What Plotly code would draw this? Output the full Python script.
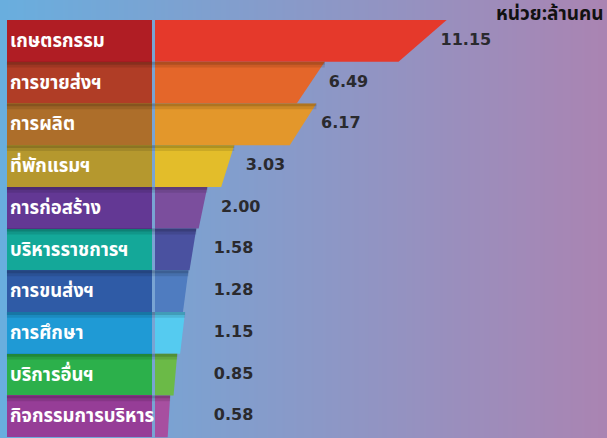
import numpy as np
import plotly.graph_objects as go

# ---- data ----
categories = ["เกษตรกรรม", "การขายส่งฯ", "การผลิต", "ที่พักแรมฯ", "การก่อสร้าง",
              "บริหารราชการฯ", "การขนส่งฯ", "การศึกษา", "บริการอื่นฯ", "กิจกรรมการบริหาร"]
values = [11.15, 6.49, 6.17, 3.03, 2.00, 1.58, 1.28, 1.15, 0.85, 0.58]
value_labels = ["11.15", "6.49", "6.17", "3.03", "2.00", "1.58", "1.28", "1.15", "0.85", "0.58"]
label_colors = ["#b01d24", "#b03d26", "#ad6e2a", "#b5982e", "#633894",
                "#14a899", "#2f5ba6", "#1f9ad5", "#2cb04b", "#963d97"]
bar_colors = ["#e5392b", "#e4662a", "#e3972b", "#e3bd2a", "#7b4e9d",
              "#4a51a0", "#4f7cc0", "#55cbf0", "#6bba47", "#a74fa0"]
unit_title = "หน่วย:ล้านคน"

W, H = 607, 438
PX = 24.0            # pixels per data unit
X0 = 155.0           # pixel position of zero
xmin, xmax = -X0 / PX, (W - X0) / PX
ymin, ymax = -0.98, 9.52

n = len(values)
fig = go.Figure()

# background gradient
xe = np.linspace(xmin, xmax, 121)
fig.add_trace(go.Heatmap(
    x=xe, y=[ymin, ymax], z=[np.linspace(0, 1, 120)],
    colorscale=[[0, "#69aede"], [1, "#aa84b2"]], showscale=False,
    zsmooth="best", hoverinfo="skip"))

# category label boxes
box_left = -6.17
box_right = -0.125
fig.add_trace(go.Bar(
    y=list(range(n)), x=[box_right - box_left] * n, base=box_left,
    orientation="h", width=1.0,
    marker=dict(color=label_colors, line=dict(width=0)),
    text=categories, textposition="inside", insidetextanchor="start",
    constraintext="none", cliponaxis=True,
    textfont=dict(color="white", size=18.5, weight="bold",
                  family="Noto Sans Thai, Noto Sans, sans-serif"),
    hoverinfo="skip"))

# slanted bars
for i, (v, c) in enumerate(zip(values, bar_colors)):
    fig.add_trace(go.Scatter(
        x=[0, v * 1.09, v * 0.91, 0, 0],
        y=[i - 0.5, i - 0.5, i + 0.5, i + 0.5, i - 0.5],
        mode="lines", fill="toself", fillcolor=c,
        line=dict(width=0, color=c), hoverinfo="skip", showlegend=False))

# value labels
fig.add_trace(go.Scatter(
    x=[max(v + 0.75, 2.45) for v in values], y=list(range(n)),
    mode="text", text=value_labels, textposition="middle right",
    textfont=dict(color="#2a2a2e", size=16, family="DejaVu Sans", weight="bold"),
    hoverinfo="skip", showlegend=False))

# soft shadows at row boundaries
shapes = []
for i in range(1, n):
    right = values[i] * 1.09
    for h, a in [(0.14, 0.10), (0.07, 0.14)]:
        shapes.append(dict(type="rect", xref="x", yref="y",
                           x0=box_left, x1=right, y0=i - 0.5, y1=i - 0.5 + h,
                           fillcolor=f"rgba(0,0,0,{a})", line=dict(width=0), layer="above"))

fig.update_layout(
    width=W, height=H, margin=dict(l=0, r=0, t=0, b=0),
    paper_bgcolor="#8fa0c8", plot_bgcolor="rgba(0,0,0,0)",
    showlegend=False, bargap=0,
    xaxis=dict(range=[xmin, xmax], visible=False, fixedrange=True),
    yaxis=dict(range=[ymax, ymin], visible=False, fixedrange=True),
    shapes=shapes,
    annotations=[dict(text="<b>" + unit_title + "</b>", xref="paper", yref="paper",
                      x=1 - 1 / W, y=1 - 14 / H, xanchor="right", yanchor="middle",
                      showarrow=False,
                      font=dict(size=19, color="#111111",
                                family="Noto Sans Thai, Noto Sans, sans-serif"))])

fig.write_html("out.html", config={"displayModeBar": False},
               post_script="document.body.style.margin='0';document.body.style.overflow='hidden';")
